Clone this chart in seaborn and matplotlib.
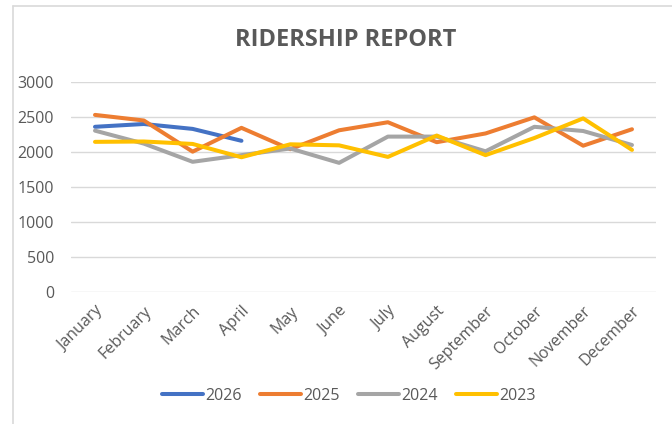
import matplotlib
matplotlib.use("Agg")
import matplotlib.pyplot as plt
import seaborn as sns
import pandas as pd
from matplotlib.lines import Line2D

months = ["January", "February", "March", "April", "May", "June", "July",
          "August", "September", "October", "November", "December"]
years = ["2026", "2025", "2024", "2023"]
r2026 = [2360, 2400, 2330, 2160]
r2025 = [2530, 2450, 2005, 2345, 2040, 2310, 2425, 2140, 2265, 2495, 2090, 2325]
r2024 = [2305, 2120, 1860, 1955, 2050, 1845, 2220, 2220, 2010, 2360, 2300, 2100]
r2023 = [2145, 2150, 2115, 1925, 2110, 2095, 1930, 2235, 1955, 2200, 2480, 2030]
colors = ["#4472C4", "#ED7D31", "#A5A5A5", "#FFC000"]

series = {"2026": r2026, "2025": r2025, "2024": r2024, "2023": r2023}
rows = []
for y in years:
    for i, v in enumerate(series[y]):
        rows.append({"month_idx": i, "riders": v, "year": y})
df = pd.DataFrame(rows)

sns.set_theme(style="white")
plt.rcParams["font.family"] = ["Open Sans", "DejaVu Sans"]

fig = plt.figure(figsize=(6.72, 4.24), dpi=100)
ax = fig.add_axes([70.6 / 672, 132 / 424, (656.4 - 70.6) / 672, 210 / 424])

sns.lineplot(data=df, x="month_idx", y="riders", hue="year", hue_order=years,
             palette=colors, linewidth=2.9, sort=False, ax=ax, legend=False)
for l in ax.lines:
    l.set_solid_capstyle("round")
    l.set_solid_joinstyle("round")

ax.set_xlim(-0.5, 11.5)
ax.set_ylim(0, 3000)
ax.set_yticks(range(0, 3001, 500))
ax.set_xticks(range(12))
ax.set_xticklabels(months, rotation=45, ha="right", rotation_mode="anchor")
ax.set_xlabel("")
ax.set_ylabel("")
ax.grid(axis="y", color="#D9D9D9", linewidth=1.0)
ax.set_axisbelow(True)
for s in ax.spines.values():
    s.set_visible(False)
ax.tick_params(axis="both", length=0, colors="#595959", labelsize=11.5)
ax.tick_params(axis="x", pad=8)
ax.tick_params(axis="y", pad=12)

fig.text(345.5 / 672, 1 - 40 / 424, "RIDERSHIP REPORT", ha="center", va="center",
         fontsize=17, fontweight="bold", color="#595959")

handles = [Line2D([0], [0], color=c, lw=2.9, solid_capstyle="round") for c in colors]
fig.legend(handles, years, loc="center", bbox_to_anchor=(349 / 672, 1 - 396 / 424),
           ncol=4, frameon=False, fontsize=11.5, handlelength=2.6, handletextpad=0.15,
           columnspacing=1.1, labelcolor="#595959")

# chart border
fig.add_artist(Line2D([13 / 672, 13 / 672], [0, 1 - 6 / 424], transform=fig.transFigure,
                      color="#D9D9D9", lw=1.2))
fig.add_artist(Line2D([13 / 672, 1], [1 - 6 / 424, 1 - 6 / 424], transform=fig.transFigure,
                      color="#D9D9D9", lw=1.2))

fig.savefig("out.png", dpi=100)
